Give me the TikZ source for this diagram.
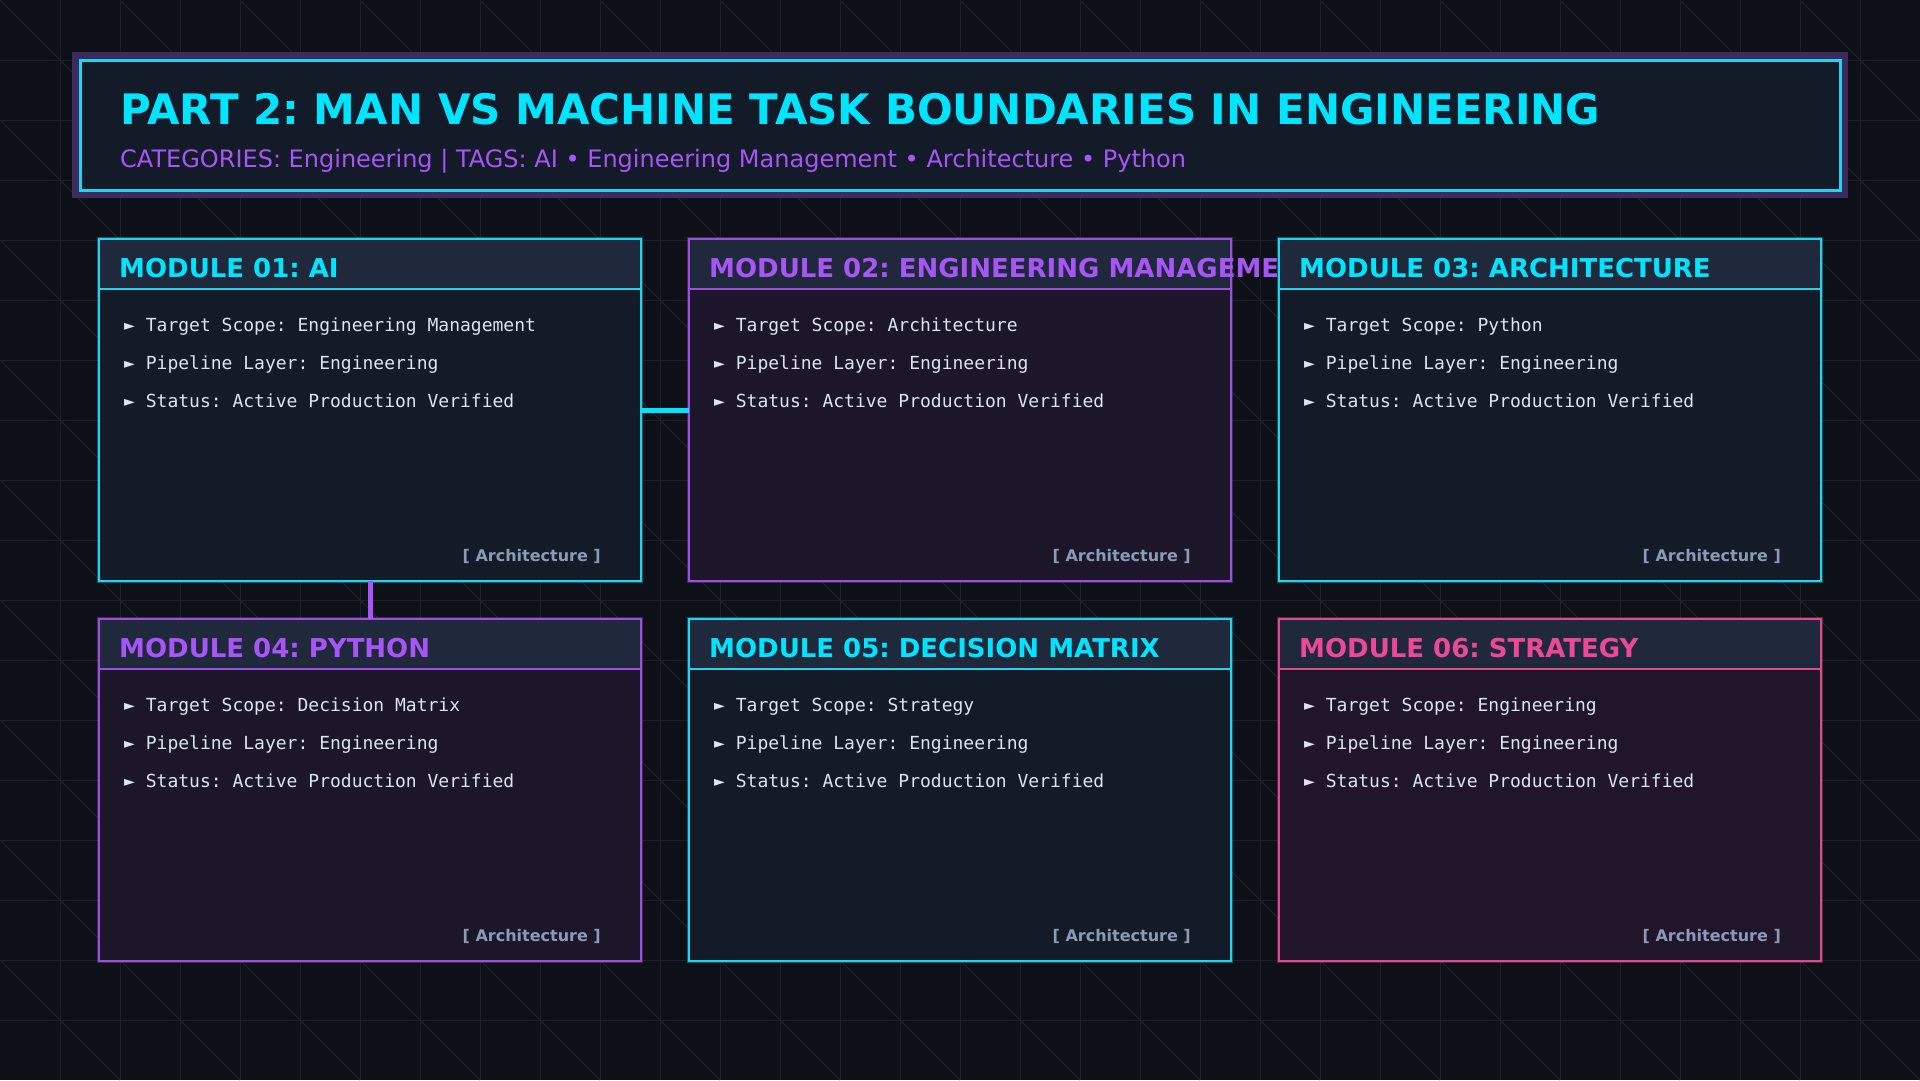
\documentclass[tikz,border=0pt]{standalone}
\usepackage{fontspec}
\setmainfont{DejaVu Sans}
\setmonofont{DejaVu Sans Mono}
\frenchspacing

\definecolor{bg}{HTML}{0D1017}
\definecolor{gridc}{HTML}{1A1F2A}
\definecolor{diagc}{HTML}{1E2431}
\definecolor{panel}{HTML}{131A28}
\definecolor{band}{HTML}{3D2A5E}
\definecolor{headfill}{HTML}{1F293B}
\definecolor{bodytext}{HTML}{DDE4EE}
\definecolor{tagc}{HTML}{8C9BB5}
\definecolor{cyanT}{HTML}{00E5FF}
\definecolor{cyanL}{HTML}{22D3EE}
\definecolor{cyanF}{HTML}{131A28}
\definecolor{purpT}{HTML}{A855F7}
\definecolor{purpL}{HTML}{9D4EDD}
\definecolor{purpF}{HTML}{1B1629}
\definecolor{pinkT}{HTML}{EC4899}
\definecolor{pinkL}{HTML}{DB4C8C}
\definecolor{pinkF}{HTML}{21152C}

\tikzset{
	gridline/.style={draw=gridc, line width=1pt},
	diagline/.style={draw=diagc, line width=0.8pt},
	banner/.style={rectangle, inner sep=0pt, minimum width=1760pt, minimum height=130pt,
		preaction={draw=band, line width=16pt}, fill=panel, draw=cyanL, line width=3pt},
	modbox/.style={rectangle, inner sep=0pt, minimum width=540pt, minimum height=340pt, line width=2pt},
	modtitle/.style={anchor=base west, inner sep=0pt, font=\fontsize{26}{30}\selectfont\bfseries},
	modline/.style={anchor=base west, inner sep=0pt, text=bodytext, font=\fontsize{18}{22}\selectfont\ttfamily},
	modtag/.style={anchor=base east, inner sep=0pt, text=tagc, font=\fontsize{16}{20}\selectfont\bfseries},
	link/.style={line width=5pt},
}

\begin{document}
\begin{tikzpicture}[x=1pt,y=-1pt]

\useasboundingbox (0,0) rectangle (1920,1080);
\fill[bg] (0,0) rectangle (1920,1080);

% background grid
\begin{scope}
	\clip (0,0) rectangle (1920,1080);
	\foreach \gx in {60,120,...,1860}
		\draw[gridline] (\gx,0) -- (\gx,1080);
	\foreach \gy in {60,120,...,1020}
		\draw[gridline] (0,\gy) -- (1920,\gy);
	\foreach \dk in {-1080,-960,...,1920}
		\draw[diagline] (\dk,0) -- (\dk+1080,1080);
\end{scope}

% header banner
\node[banner] (banner) at (960,125) {};
\node[anchor=base west, inner sep=0pt, text=cyanT, font=\fontsize{42}{50}\selectfont\bfseries]
	(title) at (120,124) {PART 2: MAN VS MACHINE TASK BOUNDARIES IN ENGINEERING};
\node[anchor=base west, inner sep=0pt, text=purpT, font=\fontsize{24}{28}\selectfont]
	(subtitle) at (120,167) {CATEGORIES: Engineering | TAGS: AI • Engineering Management • Architecture • Python};

% modules
\foreach \i/\cx/\cy/\col/\mtitle/\mscope in {
		1/370/410/cyan/AI/Engineering Management,
		2/960/410/purp/ENGINEERING MANAGEMENT/Architecture,
		3/1550/410/cyan/ARCHITECTURE/Python,
		4/370/790/purp/PYTHON/Decision Matrix,
		5/960/790/cyan/DECISION MATRIX/Strategy,
		6/1550/790/pink/STRATEGY/Engineering} {
	\node[modbox, preaction={draw=\col L, draw opacity=.35, line width=6pt}, fill=\col F] (m\i) at (\cx,\cy) {};
	\fill[headfill] ([shift={(1pt,-1pt)}]m\i.north west) rectangle ([shift={(-1pt,-50pt)}]m\i.north east);
	\draw[\col L, line width=1.5pt] ([yshift=-50pt]m\i.north west) -- ([yshift=-50pt]m\i.north east);
	\draw[\col L, line width=2pt] (m\i.north west) rectangle (m\i.south east);
	%
	\node[modtitle, text=\col T] (m\i-title) at ([shift={(20pt,-38pt)}]m\i.north west) {MODULE 0\i: \mtitle};
	\node[modline] (m\i-a) at ([shift={(25pt,-92pt)}]m\i.north west) {► Target Scope: \mscope};
	\node[modline] (m\i-b) at ([shift={(25pt,-130pt)}]m\i.north west) {► Pipeline Layer: Engineering};
	\node[modline] (m\i-c) at ([shift={(25pt,-168pt)}]m\i.north west) {► Status: Active Production Verified};
	\node[modtag] (m\i-tag) at ([shift={(-40pt,20pt)}]m\i.south east) {[ Architecture ]};
}

% links
\draw[link, cyanT] (m1.east) -- (m2.west);
\draw[link, purpT] (m1.south) -- (m4.north);

\end{tikzpicture}
\end{document}
